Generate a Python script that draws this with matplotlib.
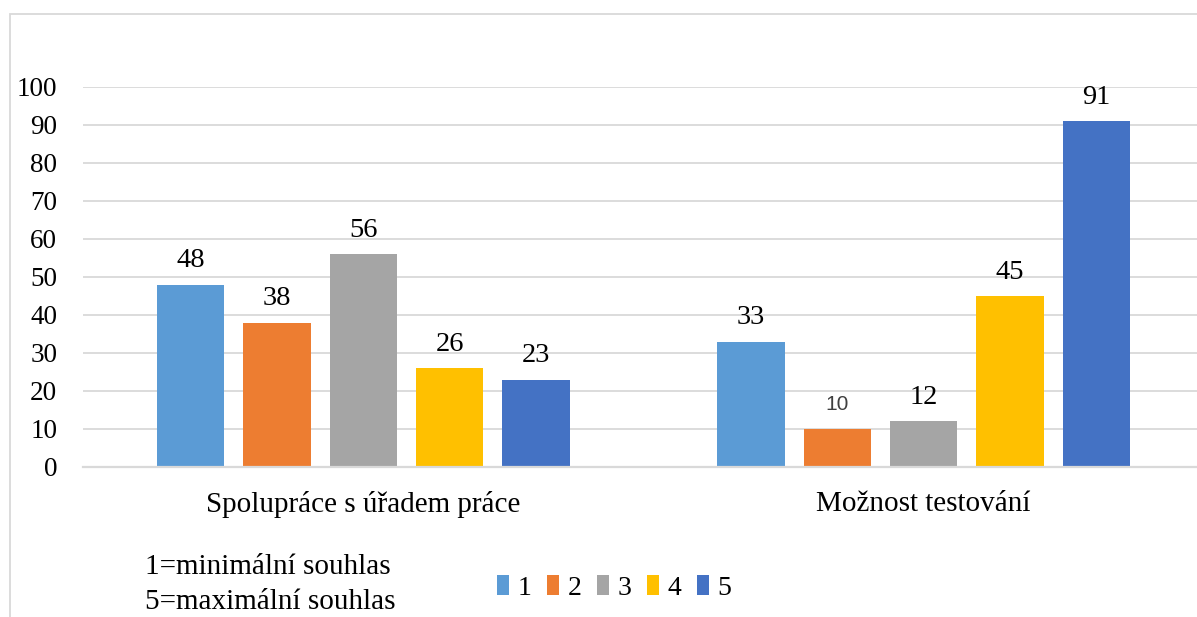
import numpy as np
import matplotlib.pyplot as plt
from matplotlib.patches import Rectangle

plt.rcParams['font.family'] = ['Liberation Serif', 'DejaVu Serif']

categories = ['Spolupráce s úřadem práce', 'Možnost testování']
series_names = ['1', '2', '3', '4', '5']
values = [
    [48, 33],
    [38, 10],
    [56, 12],
    [26, 45],
    [23, 91],
]
colors = ['#5B9BD5', '#ED7D31', '#A5A5A5', '#FFC000', '#4472C4']
yticks = list(range(0, 101, 10))

W, H = 1197, 617
fig = plt.figure(figsize=(W / 100, H / 100), dpi=100)

# ramecek grafu (orezany vpravo a dole)
fig.patches.append(Rectangle((9.5 / W, -0.1), 1.2, 1 - 14 / H + 0.1,
                             transform=fig.transFigure, fill=False,
                             ec='#d9d9d9', lw=1.3, zorder=0))

ax = fig.add_axes([83 / W, 150 / H, (1204 - 83) / W, 380 / H])

x = np.arange(len(categories))
step = 0.154
width = 0.12
for i, (name, vals, c) in enumerate(zip(series_names, values, colors)):
    b = ax.bar(x + (i - 2) * step, vals, width, color=c, label=name, zorder=2)
    for rect, v in zip(b, vals):
        cx = rect.get_x() + rect.get_width() / 2
        if v == 10:
            ax.annotate(str(v), (cx, v), xytext=(0, 11), textcoords='offset points',
                        ha='center', va='bottom', fontsize=15, color='#404040',
                        family='Liberation Sans')
        else:
            ax.annotate(str(v), (cx, v), xytext=(0, 8), textcoords='offset points',
                        ha='center', va='bottom', fontsize=20.5, color='black')

ax.set_xlim(-0.5, 1.5)
ax.set_ylim(0, 100)
ax.set_yticks(yticks)
ax.set_xticks(x)
ax.set_xticklabels(categories, fontsize=21)
ax.tick_params(axis='y', length=0, pad=18.5, labelsize=19.5)
ax.tick_params(axis='x', length=0, pad=17)
ax.grid(axis='y', color='#d9d9d9', lw=1.3, zorder=0)
ax.set_axisbelow(True)
for s in ['top', 'right', 'left']:
    ax.spines[s].set_visible(False)
ax.spines['bottom'].set_color('#d9d9d9')
ax.spines['bottom'].set_linewidth(1.6)

fig.text(145 / W, 1 - 567 / H, '1=minimální souhlas', fontsize=21, va='center')
fig.text(145 / W, 1 - 602 / H, '5=maximální souhlas', fontsize=21, va='center')

fig.legend(loc='center', bbox_to_anchor=(614 / W, 1 - 588 / H), ncol=5, frameon=False,
           fontsize=20, handlelength=0.45, handleheight=0.7, handletextpad=0.3,
           columnspacing=0.55)

fig.savefig('out.png', dpi=100)
